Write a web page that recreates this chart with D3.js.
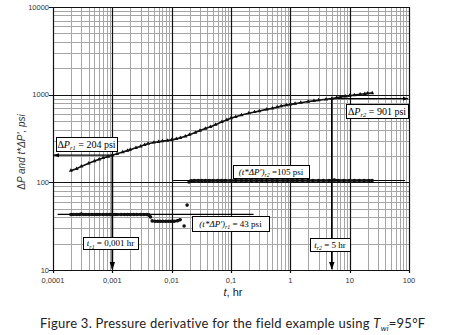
<!DOCTYPE html>
<html>
<head>
<meta charset="utf-8">
<script src="https://cdn.jsdelivr.net/npm/d3@7"></script>
<style>
  body { margin: 0; background: #fff; }
  svg { display: block; }
</style>
</head>
<body>
<div id="chart"></div>
<script>
// pressure change, psi (triangles)
const dpTime = [0.0002, 0.00025, 0.0003, 0.0004, 0.0005, 0.0006, 0.0007, 0.00085, 0.001, 0.0012, 0.0015, 0.0018,
    0.002, 0.0025, 0.003, 0.0035, 0.004, 0.005, 0.006, 0.007, 0.0085, 0.01, 0.012, 0.014, 0.017, 0.02, 0.025,
    0.03, 0.037, 0.045, 0.055, 0.07, 0.085, 0.1, 0.12, 0.15, 0.2, 0.25, 0.3, 0.4, 0.5, 0.6, 0.7, 0.85, 1,
    1.2, 1.5, 2, 2.5, 3, 4, 5, 6, 7, 8.5, 10, 12, 15, 18, 20, 24];
const dpPsi = [136, 143, 152, 165, 175, 183, 190, 197, 204, 212, 222, 230,
    236, 248, 258, 268, 276, 285, 290, 295, 300, 305, 313, 322, 335, 350, 370,
    390, 410, 430, 455, 490, 515, 540, 560, 585, 615, 635, 650, 680, 700, 720, 740, 760, 775,
    790, 810, 835, 850, 865, 885, 901, 920, 940, 958, 975, 990, 1010, 1025, 1035, 1045];

// pressure derivative t*dP', psi (dots)
const derTime = [0.0002, 0.00022, 0.00025, 0.00028, 0.0003, 0.00033, 0.00036, 0.0004, 0.00045, 0.0005, 0.00055,
    0.0006, 0.0007, 0.0008, 0.0009, 0.001, 0.0011, 0.0012, 0.0014, 0.0016, 0.0018, 0.002, 0.0023, 0.0026,
    0.003, 0.0034, 0.0038, 0.0041, 0.0044, 0.0047, 0.0052, 0.0058, 0.0064, 0.0071, 0.0079, 0.0088, 0.0098,
    0.011, 0.0125, 0.0139, 0.0162, 0.0182, 0.0196, 0.021, 0.024, 0.028, 0.032, 0.037, 0.043, 0.05, 0.06, 0.07,
    0.08, 0.1, 0.12, 0.15, 0.18, 0.22, 0.27, 0.33, 0.4, 0.5, 0.6, 0.75, 0.9, 1.1, 1.3, 1.6, 2, 2.4, 3,
    3.6, 4.5, 5.5, 6.5, 8, 10, 12, 14.5, 17.5, 21, 24];
const derPsi = [43, 43, 43, 43, 43.5, 43, 43, 43, 43, 43, 43,
    43, 43, 43, 43, 43, 43, 43, 43, 43, 43, 43, 43, 43,
    43, 43, 43, 42.5, 40.3, 36.3, 36, 36, 36, 36, 36, 36, 36,
    36, 36.5, 37.5, 31.8, 55, 101, 104, 105, 105, 105, 105, 105, 105, 105, 105,
    105, 105, 105, 105, 105, 105, 105, 105, 105, 105, 105, 105, 105, 105, 105, 105, 105, 105, 105,
    105, 105, 106, 105, 105, 105, 105, 105, 105, 105, 105];

const xTicks = [0.0001, 0.001, 0.01, 0.1, 1, 10, 100];
const xTickLabels = ["0,0001", "0,001", "0,01", "0,1", "1", "10", "100"];
const yTicks = [10, 100, 1000, 10000];

// reference values
const tr1 = 0.001, dpr1 = 204;
const tr2 = 5, dpr2 = 901;
const derr1 = 43, derr1Span = [0.00012, 0.24];
const derr2 = 105, derr2Span = [0.0106, 86];

const width = 450, height = 335;
const svg = d3.select("#chart").append("svg")
    .attr("width", width)
    .attr("height", height);

const x = d3.scaleLog().domain([0.0001, 100]).range([53, 409]);
const y = d3.scaleLog().domain([10, 10000]).range([270, 7]);

// grid
const minorX = [], minorY = [];
for (let e = -4; e < 2; e++) for (let k = 2; k <= 9; k++) minorX.push(k * Math.pow(10, e));
for (let e = 1; e < 4; e++) for (let k = 2; k <= 9; k++) minorY.push(k * Math.pow(10, e));

const grid = svg.append("g");
grid.selectAll(".mx").data(minorX).enter().append("line")
    .attr("x1", d => Math.round(x(d)) + 0.5).attr("x2", d => Math.round(x(d)) + 0.5)
    .attr("y1", y(10000)).attr("y2", y(10))
    .attr("stroke", "#a6a6a6").attr("stroke-width", 1);
grid.selectAll(".my").data(minorY).enter().append("line")
    .attr("y1", d => Math.round(y(d)) + 0.5).attr("y2", d => Math.round(y(d)) + 0.5)
    .attr("x1", x(0.0001)).attr("x2", x(100))
    .attr("stroke", "#a6a6a6").attr("stroke-width", 1);
grid.selectAll(".Mx").data(xTicks).enter().append("line")
    .attr("x1", d => Math.round(x(d)) + 0.5).attr("x2", d => Math.round(x(d)) + 0.5)
    .attr("y1", y(10000)).attr("y2", y(10) + 3)
    .attr("stroke", "#111").attr("stroke-width", 1.2);
grid.selectAll(".My").data(yTicks).enter().append("line")
    .attr("y1", d => Math.round(y(d)) + 0.5).attr("y2", d => Math.round(y(d)) + 0.5)
    .attr("x1", x(0.0001) - 4).attr("x2", x(100))
    .attr("stroke", "#111").attr("stroke-width", 1.2);

// tick labels
svg.append("g").selectAll("text").data(xTicks).enter().append("text")
    .attr("x", d => x(d)).attr("y", 283)
    .attr("text-anchor", "middle")
    .attr("font-family", "Liberation Sans, Arial, sans-serif")
    .attr("font-size", 7.5).attr("fill", "#333")
    .text((d, i) => xTickLabels[i]);
svg.append("g").selectAll("text").data(yTicks).enter().append("text")
    .attr("x", 49).attr("y", d => y(d) + 2.5)
    .attr("text-anchor", "end")
    .attr("font-family", "Liberation Sans, Arial, sans-serif")
    .attr("font-size", 7.5).attr("fill", "#333")
    .text(d => d);

// axis titles
const yt = svg.append("text")
    .attr("transform", "translate(25,152) rotate(-90)")
    .attr("text-anchor", "middle")
    .attr("font-family", "Liberation Sans, Arial, sans-serif")
    .attr("font-size", 10).attr("fill", "#333");
yt.append("tspan").text("Δ");
yt.append("tspan").attr("font-style", "italic").text("P");
yt.append("tspan").attr("font-style", "italic").text("  and  t*Δ");
yt.append("tspan").attr("font-style", "italic").text("P', psi");

const xt = svg.append("text")
    .attr("x", 233).attr("y", 296)
    .attr("text-anchor", "middle")
    .attr("font-family", "Liberation Sans, Arial, sans-serif")
    .attr("font-size", 11).attr("fill", "#222");
xt.append("tspan").attr("font-style", "italic").text("t");
xt.append("tspan").text(", hr");

// reference lines with arrows
svg.append("defs").append("marker")
    .attr("id", "arr").attr("viewBox", "0 0 10 10")
    .attr("refX", 9).attr("refY", 5)
    .attr("markerWidth", 5).attr("markerHeight", 5)
    .attr("orient", "auto")
    .append("path").attr("d", "M0,1.5L10,5L0,8.5Z").attr("fill", "#000");

const ref = svg.append("g").attr("stroke", "#000").attr("stroke-width", 1.2).attr("fill", "none");
ref.append("line").attr("x1", x(tr1)).attr("y1", y(dpr1)).attr("x2", x(0.0001) + 1).attr("y2", y(dpr1))
    .attr("marker-end", "url(#arr)");
ref.append("line").attr("x1", x(tr1)).attr("y1", y(dpr1)).attr("x2", x(tr1)).attr("y2", y(10) - 1)
    .attr("stroke-width", 1.6).attr("marker-end", "url(#arr)");
ref.append("line").attr("x1", x(tr2)).attr("y1", y(dpr2)).attr("x2", x(100) - 1).attr("y2", y(dpr2))
    .attr("marker-end", "url(#arr)");
ref.append("line").attr("x1", x(tr2)).attr("y1", y(dpr2)).attr("x2", x(tr2)).attr("y2", y(10) - 1)
    .attr("stroke-width", 1.6).attr("marker-end", "url(#arr)");
ref.append("line").attr("x1", x(derr1Span[0])).attr("x2", x(derr1Span[1]))
    .attr("y1", y(derr1)).attr("y2", y(derr1));
ref.append("line").attr("x1", x(derr2Span[0])).attr("x2", x(derr2Span[1]))
    .attr("y1", y(derr2)).attr("y2", y(derr2));

// pressure series
const dpData = dpTime.map((t, i) => ({t: t, p: dpPsi[i]}));
const derData = derTime.map((t, i) => ({t: t, p: derPsi[i]}));

svg.append("path")
    .datum(dpData)
    .attr("d", d3.line().x(d => x(d.t)).y(d => y(d.p)))
    .attr("fill", "none").attr("stroke", "#111").attr("stroke-width", 1.6);
svg.selectAll(".dp").data(dpData).enter().append("path")
    .attr("transform", d => "translate(" + x(d.t) + "," + y(d.p) + ")")
    .attr("d", d3.symbol().type(d3.symbolTriangle).size(7))
    .attr("fill", "#111");

// derivative: connect consecutive points only along the plateaus
const derLine = d3.line()
    .defined((d, i) => i === 0 || Math.abs(Math.log10(d.p / derData[i - 1].p)) < 0.03)
    .x(d => x(d.t)).y(d => y(d.p));
svg.append("path")
    .datum(derData)
    .attr("d", derLine)
    .attr("fill", "none").attr("stroke", "#111").attr("stroke-width", 2.6);
svg.selectAll(".der").data(derData).enter().append("circle")
    .attr("cx", d => x(d.t)).attr("cy", d => y(d.p))
    .attr("r", 1.8)
    .attr("fill", "#111");

// annotation boxes
function box(bx, by, bw, bh, parts, size) {
    const g = svg.append("g");
    g.append("rect").attr("x", bx + 0.5).attr("y", by + 0.5).attr("width", bw).attr("height", bh)
        .attr("fill", "#fff").attr("stroke", "#000").attr("stroke-width", 1);
    const t = g.append("text")
        .attr("x", bx + bw / 2).attr("y", by + bh / 2 + size * 0.35)
        .attr("text-anchor", "middle")
        .attr("font-family", "Liberation Serif, Times New Roman, serif")
        .attr("font-size", size).attr("fill", "#000");
    parts.forEach(p => {
        const s = t.append("tspan").text(p[0]);
        if (p[1] === "i") s.attr("font-style", "italic");
        if (p[1] === "sub") s.attr("font-style", "italic").attr("font-size", size * 0.65).attr("dy", 2.5);
        if (p[1] === "after") s.attr("dy", -2.5);
    });
}
box(56, 137, 61, 14, [["Δ"], ["P", "i"], ["r1", "sub"], [" = 204 psi", "after"]], 10);
box(83, 237, 55, 12, [["t", "i"], ["r1", "sub"], [" = 0,001 hr", "after"]], 9);
box(233, 165, 76, 13, [["(", "i"], ["t", "i"], ["*Δ", "i"], ["P", "i"], ["')", "i"], ["r2", "sub"], [" =105 psi", "after"]], 9);
box(192, 216, 77, 15, [["(", "i"], ["t", "i"], ["*Δ", "i"], ["P", "i"], ["')", "i"], ["r1", "sub"], [" = 43 psi", "after"]], 9);
box(346, 104, 62, 14, [["Δ"], ["P", "i"], ["r2", "sub"], [" = 901 psi", "after"]], 10);
box(310, 238, 40, 13, [["t", "i"], ["r2", "sub"], [" = 5 hr", "after"]], 9);

// caption
const cap = svg.append("text")
    .attr("x", 40).attr("y", 328)
    .attr("font-family", "Lato, DejaVu Sans, sans-serif")
    .attr("font-size", 13).attr("letter-spacing", 0.25).attr("fill", "#222");
cap.append("tspan").text("Figure 3. Pressure derivative for the field example using ");
cap.append("tspan").attr("font-style", "italic").text("T");
cap.append("tspan").attr("font-style", "italic").attr("font-size", 8).attr("dy", 3).text("wi");
cap.append("tspan").attr("dy", -3).text("=95°F");
</script>
</body>
</html>
